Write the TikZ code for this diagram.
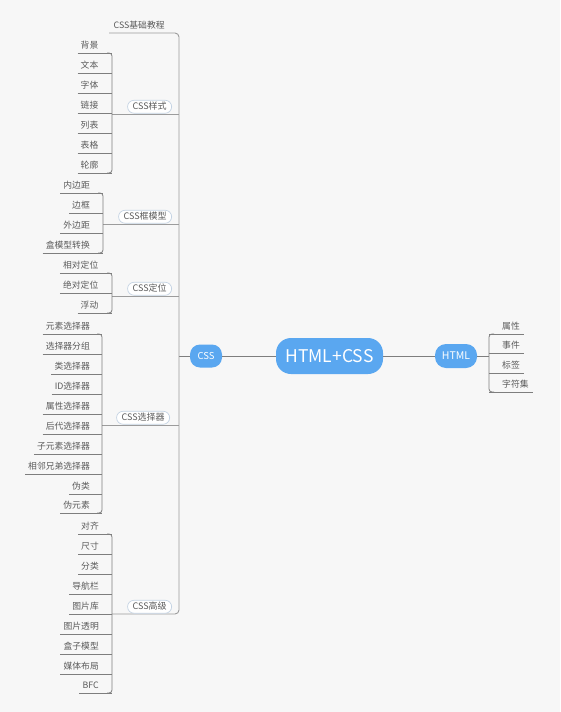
\documentclass[tikz,border=0pt]{standalone}
\usepackage{fontspec}
\setmainfont{Noto Sans CJK SC}
\usetikzlibrary{calc}
\definecolor{bg}{HTML}{F7F7F7}
\definecolor{lnc}{HTML}{7E7E7E}
\definecolor{spc}{HTML}{9C9C9C}
\definecolor{tx}{HTML}{5A5A5A}
\definecolor{blu}{HTML}{5AA7F0}
\definecolor{pillb}{HTML}{C4D3E3}
\tikzset{
  leaf/.style={font=\fontsize{8.8}{10}\selectfont, text=tx, inner xsep=3pt, inner ysep=2.5pt, text height=7pt, text depth=1.5pt},
  conn/.style={draw=lnc, line width=0.8pt},
  spine/.style={draw=spc, line width=0.9pt},
  pill/.style={draw=pillb, fill=white, rounded corners=6.5pt, font=\fontsize{9}{10}\selectfont, text=tx, minimum height=13pt, inner xsep=5pt, inner ysep=0pt, text height=7pt, text depth=1.5pt, line width=0.7pt},
  bluenode/.style={fill=blu, text=white, inner sep=0pt},
}
\begin{document}
\begin{tikzpicture}[x=1pt,y=-1pt]
\fill[bg] (0,0) rectangle (560,712);
\useasboundingbox (0,0) rectangle (560,712);

% central nodes
\node[bluenode, rounded corners=15pt, minimum width=107pt, minimum height=36pt, font=\fontsize{17.5}{20}\selectfont] (root) at (329.5,356) {HTML+CSS};
\node[bluenode, rounded corners=10pt, minimum width=32pt, minimum height=23pt, font=\fontsize{9.5}{10}\selectfont] (css) at (206,356) {CSS};
\node[bluenode, rounded corners=11pt, minimum width=42pt, minimum height=24pt, font=\fontsize{10.5}{12}\selectfont] (html) at (456,356) {HTML};
\draw[conn] (css) -- (root);
\draw[conn] (root) -- (html);

% spine and group junctions
\coordinate (sp) at (179,356);
\coordinate (g1) at (112,114);
\coordinate (g2) at (103,224);
\coordinate (g3) at (112,296);
\coordinate (g4) at (102,425);
\coordinate (g5) at (112,614);
\draw[conn] (css.west) -- (css.west -| sp);

\node[leaf, anchor=south west, inner xsep=4.5pt] (top) at (109,33) {CSS基础教程};
\draw[spine, rounded corners=4pt] (top.south west) -- (top.south west -| sp) -- (g5 -| sp) -- (g5);
\foreach \g in {g1,g2,g3,g4} {\draw[spine] (\g) -- (\g -| sp);}

% group 1: CSS样式
\foreach \t/\y [count=\i] in {背景/53,文本/73,字体/93,链接/113,列表/133,表格/153,轮廓/173} {
  \node[leaf, anchor=south east] (a\i) at (101.5,\y) {\t};
  \draw[conn] (a\i.south west) -- (a\i.south west -| g1);
}
\draw[conn, rounded corners=3pt] ($(a1.south west -| g1)+(-5,0)$) -- (a1.south west -| g1) -- (a7.south west -| g1) -- ++(-5,0);

% group 2: CSS框模型
\foreach \t/\y [count=\i] in {内边距/193,边框/213,外边距/233,盒模型转换/253} {
  \node[leaf, anchor=south east] (b\i) at (93,\y) {\t};
  \draw[conn] (b\i.south west) -- (b\i.south west -| g2);
}
\draw[conn, rounded corners=3pt] ($(b1.south west -| g2)+(-5,0)$) -- (b1.south west -| g2) -- (b4.south west -| g2) -- ++(-5,0);

% group 3: CSS定位
\foreach \t/\y [count=\i] in {相对定位/273,绝对定位/293,浮动/313} {
  \node[leaf, anchor=south east] (c\i) at (101.5,\y) {\t};
  \draw[conn] (c\i.south west) -- (c\i.south west -| g3);
}
\draw[conn, rounded corners=3pt] ($(c1.south west -| g3)+(-5,0)$) -- (c1.south west -| g3) -- (c3.south west -| g3) -- ++(-5,0);

% group 4: CSS选择器
\foreach \t/\y [count=\i] in {元素选择器/334,选择器分组/354,类选择器/374,ID选择器/394,属性选择器/414,后代选择器/434,子元素选择器/454,相邻兄弟选择器/474,伪类/494,伪元素/513} {
  \node[leaf, anchor=south east] (d\i) at (93,\y) {\t};
  \draw[conn] (d\i.south west) -- (d\i.south west -| g4);
}
\draw[conn, rounded corners=3pt] ($(d1.south west -| g4)+(-5,0)$) -- (d1.south west -| g4) -- (d10.south west -| g4) -- ++(-5,0);

% group 5: CSS高级
\foreach \t/\y [count=\i] in {对齐/534,尺寸/554,分类/574,导航栏/594,图片库/614,图片透明/634,盒子模型/654,媒体布局/674,BFC/693} {
  \node[leaf, anchor=south east] (e\i) at (102,\y) {\t};
  \draw[conn] (e\i.south west) -- (e\i.south west -| g5);
}
\draw[conn, rounded corners=3pt] ($(e1.south west -| g5)+(-5,0)$) -- (e1.south west -| g5) -- (e9.south west -| g5) -- ++(-5,0);

% branch pills
\node[pill, anchor=south east] (p1) at (172,113.6) {CSS样式};
\node[pill, anchor=south east] (p2) at (172,223.6) {CSS框模型};
\node[pill, anchor=south east] (p3) at (172,295.6) {CSS定位};
\node[pill, anchor=south east] (p4) at (170,424.6) {CSS选择器};
\node[pill, anchor=south east] (p5) at (172,613.6) {CSS高级};

% HTML side
\coordinate (hv) at (489,356);
\draw[conn] (html.east) -- (html.east -| hv);
\foreach \t/\y [count=\i] in {属性/334,事件/353,标签/373,字符集/392} {
  \node[leaf, anchor=south west, inner xsep=4pt] (h\i) at (498,\y) {\t};
  \draw[conn] (h\i.south west -| hv) -- (h\i.south east);
}
\draw[conn, rounded corners=3pt] ($(h1.south west -| hv)+(5,0)$) -- (h1.south west -| hv) -- (h4.south west -| hv) -- ++(5,0);
\end{tikzpicture}
\end{document}
